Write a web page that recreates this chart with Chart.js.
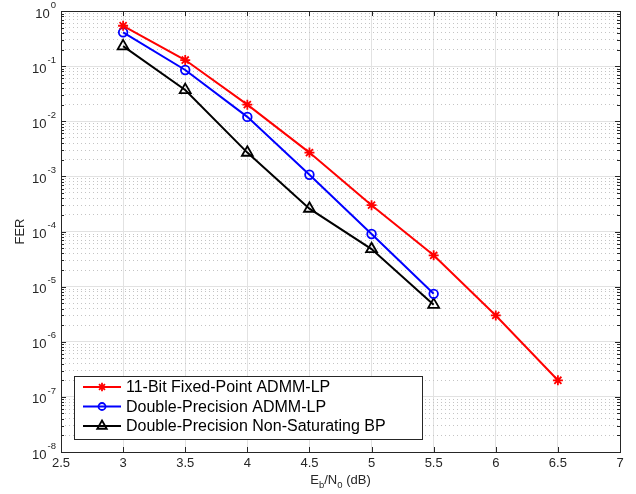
<!DOCTYPE html>
<html>
<head>
<meta charset="utf-8">
<script src="https://cdn.jsdelivr.net/npm/chart.js@4/dist/chart.umd.min.js"></script>
<style>
  html, body { margin: 0; padding: 0; background: #fff; }
  #wrap { width: 636px; height: 494px; }
</style>
</head>
<body>
<div id="wrap"><canvas id="myChart" width="636" height="494"></canvas></div>
<script>
// Datos
const snr = [3, 3.5, 4, 4.5, 5, 5.5, 6, 6.5];
const ferFixed = [0.54, 0.129, 0.020, 0.0027, 3.0e-4, 3.7e-5, 3.0e-6, 2.0e-7];
const ferDouble = [0.41, 0.085, 0.012, 1.07e-3, 9.0e-5, 7.4e-6];
const ferBP = [0.23, 0.037, 0.0027, 2.6e-4, 4.8e-5, 4.7e-6];

const labels = [
    '11-Bit Fixed-Point ADMM-LP',
    'Double-Precision ADMM-LP',
    'Double-Precision Non-Saturating BP'
];

// Ticks
const xTicks = [2.5, 3, 3.5, 4, 4.5, 5, 5.5, 6, 6.5, 7];
const yExponents = [0, -1, -2, -3, -4, -5, -6, -7, -8];
const yMinorMult = [2, 3, 4, 5, 6, 7, 8, 9];

const yMajor = yExponents.map(e => Math.pow(10, e));
const yMinor = [];
yExponents.slice(0, -1).forEach(e => {
    yMinorMult.forEach(m => yMinor.push(m * Math.pow(10, e - 1)));
});

const FONT = '"Liberation Sans", Arial, Helvetica, sans-serif';
const AXIS_COLOR = '#262626';

const toPoints = (ys) => ys.map((y, i) => ({ x: snr[i], y: y }));

// Plugin: marco, marcas internas, etiquetas del eje y, títulos y leyenda
const matlabLook = {
    id: 'matlabLook',
    afterDraw(chart) {
        const ctx = chart.ctx;
        const area = chart.chartArea;
        const xs = chart.scales.x;
        const ys = chart.scales.y;

        ctx.save();
        // Marco
        ctx.strokeStyle = AXIS_COLOR;
        ctx.lineWidth = 1;
        ctx.strokeRect(Math.round(area.left) + 0.5, Math.round(area.top) + 0.5,
            Math.round(area.right - area.left), Math.round(area.bottom - area.top));

        // Marcas del eje x (hacia dentro, arriba y abajo)
        ctx.beginPath();
        xTicks.forEach(v => {
            const px = Math.round(xs.getPixelForValue(v)) + 0.5;
            ctx.moveTo(px, area.bottom); ctx.lineTo(px, area.bottom - 5);
            ctx.moveTo(px, area.top); ctx.lineTo(px, area.top + 5);
        });
        // Marcas del eje y
        yMajor.forEach(v => {
            const py = Math.round(ys.getPixelForValue(v)) + 0.5;
            ctx.moveTo(area.left, py); ctx.lineTo(area.left + 5, py);
            ctx.moveTo(area.right, py); ctx.lineTo(area.right - 5, py);
        });
        yMinor.forEach(v => {
            const py = Math.round(ys.getPixelForValue(v)) + 0.5;
            ctx.moveTo(area.left, py); ctx.lineTo(area.left + 3, py);
            ctx.moveTo(area.right, py); ctx.lineTo(area.right - 3, py);
        });
        ctx.stroke();

        // Etiquetas 10^n
        ctx.fillStyle = AXIS_COLOR;
        ctx.textBaseline = 'middle';
        yExponents.forEach((e, i) => {
            const py = ys.getPixelForValue(yMajor[i]);
            ctx.font = '9.5px ' + FONT;
            ctx.textAlign = 'right';
            const expText = String(e);
            const ew = ctx.measureText(expText).width;
            ctx.fillText(expText, 56, py - 6);
            ctx.font = '13px ' + FONT;
            ctx.fillText('10', 56 - ew - 1, py + 3);
        });

        // Título del eje x: E_b/N_0 (dB)
        const parts = [
            { t: 'E', sub: false }, { t: 'b', sub: true },
            { t: '/N', sub: false }, { t: '0', sub: true },
            { t: ' (dB)', sub: false }
        ];
        let total = 0;
        parts.forEach(p => {
            ctx.font = (p.sub ? '9.5px ' : '13px ') + FONT;
            p.w = ctx.measureText(p.t).width;
            total += p.w;
        });
        let cx = (area.left + area.right) / 2 - total / 2;
        ctx.textAlign = 'left';
        ctx.textBaseline = 'alphabetic';
        parts.forEach(p => {
            ctx.font = (p.sub ? '9.5px ' : '13px ') + FONT;
            ctx.fillText(p.t, cx, p.sub ? 488 : 484);
            cx += p.w;
        });

        // Título del eje y
        ctx.save();
        ctx.translate(20, (area.top + area.bottom) / 2);
        ctx.rotate(-Math.PI / 2);
        ctx.font = '13px ' + FONT;
        ctx.textAlign = 'center';
        ctx.textBaseline = 'middle';
        ctx.fillText('FER', 0, 0);
        ctx.restore();

        // Leyenda
        const lx = 74, ly = 376, lw = 348, lh = 63;
        ctx.fillStyle = '#fff';
        ctx.fillRect(lx, ly, lw, lh);
        ctx.strokeStyle = AXIS_COLOR;
        ctx.lineWidth = 1;
        ctx.strokeRect(lx + 0.5, ly + 0.5, lw, lh);
        const rows = [387, 406.5, 426];
        chart.data.datasets.forEach((ds, i) => {
            const y = rows[i];
            ctx.strokeStyle = ds.borderColor;
            ctx.lineWidth = ds.borderWidth;
            ctx.beginPath();
            ctx.moveTo(83, y); ctx.lineTo(121, y);
            ctx.stroke();
            ctx.lineWidth = ds.pointBorderWidth;
            ctx.fillStyle = 'rgba(0,0,0,0)';
            Chart.helpers.drawPoint(ctx, {
                pointStyle: ds.pointStyle,
                radius: ds.pointRadius - 0.8,
                rotation: 0,
                borderWidth: ds.pointBorderWidth
            }, 102, y);
            ctx.fillStyle = '#000';
            ctx.font = '16px ' + FONT;
            ctx.textAlign = 'left';
            ctx.textBaseline = 'middle';
            ctx.fillText(ds.label, 126, y + 1);
        });
        ctx.restore();
    }
};

new Chart(document.getElementById('myChart'), {
    type: 'line',
    data: {
        datasets: [{
            label: labels[0],
            data: toPoints(ferFixed),
            borderColor: '#ff0000',
            borderWidth: 2,
            pointStyle: 'star',
            pointRadius: 5,
            pointBorderWidth: 1.8,
            pointBackgroundColor: 'rgba(0,0,0,0)',
            pointBorderColor: '#ff0000'
        }, {
            label: labels[1],
            data: toPoints(ferDouble),
            borderColor: '#0000ff',
            borderWidth: 2,
            pointStyle: 'circle',
            pointRadius: 4.3,
            pointBorderWidth: 1.8,
            pointBackgroundColor: 'rgba(0,0,0,0)',
            pointBorderColor: '#0000ff'
        }, {
            label: labels[2],
            data: toPoints(ferBP),
            borderColor: '#000000',
            borderWidth: 2,
            pointStyle: 'triangle',
            pointRadius: 6.3,
            pointBorderWidth: 1.8,
            pointBackgroundColor: 'rgba(0,0,0,0)',
            pointBorderColor: '#000000'
        }]
    },
    options: {
        responsive: false,
        animation: false,
        devicePixelRatio: 1,
        layout: { padding: { top: 11, right: 16, left: 0, bottom: 0 } },
        plugins: {
            legend: { display: false },
            tooltip: { enabled: false }
        },
        elements: { line: { tension: 0 } },
        scales: {
            x: {
                type: 'linear',
                min: 2.5,
                max: 7,
                afterBuildTicks: (scale) => { scale.ticks = xTicks.map(v => ({ value: v })); },
                afterFit: (scale) => { scale.height = 42; },
                ticks: {
                    font: { family: FONT, size: 13 },
                    color: AXIS_COLOR,
                    padding: 4,
                    maxRotation: 0,
                    autoSkip: false,
                    callback: (v) => String(v)
                },
                grid: { color: '#e2e2e2', lineWidth: 1, drawTicks: false },
                border: { display: false }
            },
            y: {
                type: 'logarithmic',
                min: 1e-8,
                max: 1,
                afterBuildTicks: (scale) => { scale.ticks = yMajor.map(v => ({ value: v })); },
                afterFit: (scale) => { scale.width = 61; },
                ticks: { display: false },
                grid: { color: '#e2e2e2', lineWidth: 1, drawTicks: false },
                border: { display: false }
            },
            yMinor: {
                type: 'logarithmic',
                position: 'left',
                min: 1e-8,
                max: 1,
                afterBuildTicks: (scale) => { scale.ticks = yMinor.map(v => ({ value: v })); },
                afterFit: (scale) => { scale.width = 0; },
                ticks: { display: false },
                grid: { color: '#c4c4c4', lineWidth: 1, drawTicks: false },
                border: { display: false, dash: [1, 3] }
            }
        }
    },
    plugins: [matlabLook]
});
</script>
</body>
</html>
